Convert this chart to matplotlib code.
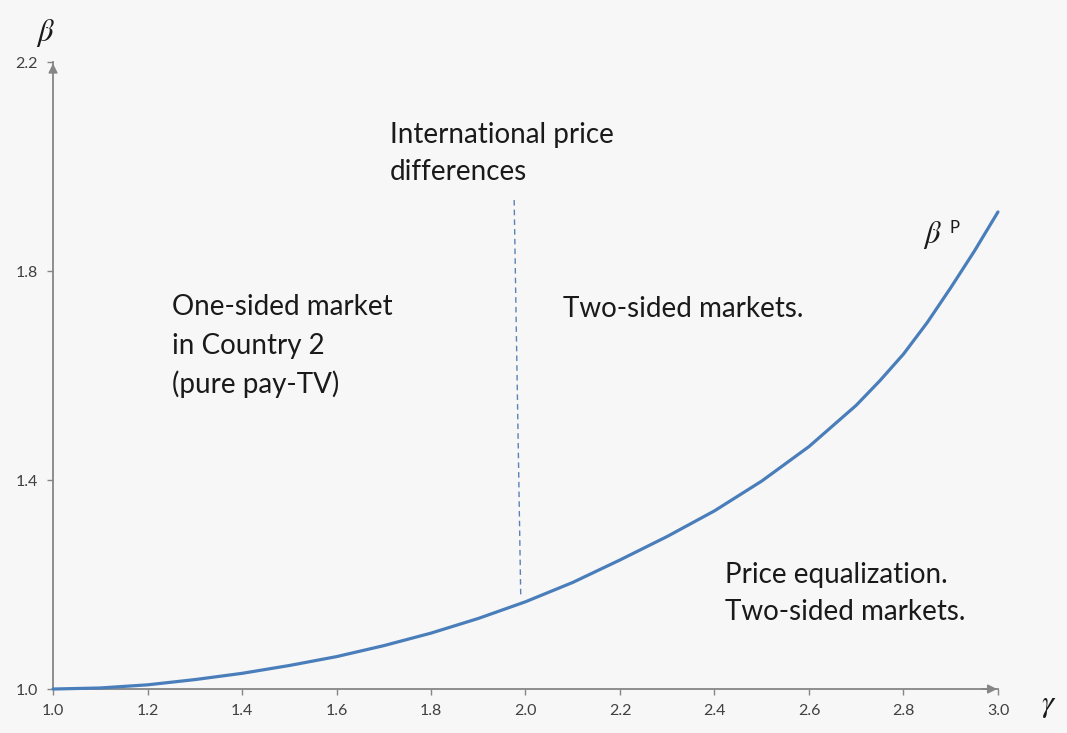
import matplotlib
matplotlib.use("Agg")
import matplotlib.pyplot as plt

# curve beta^P(gamma)
gamma = [1.0, 1.1, 1.2, 1.3, 1.4, 1.5, 1.6, 1.7, 1.8, 1.9, 2.0, 2.1, 2.2, 2.3,
         2.4, 2.5, 2.6, 2.7, 2.75, 2.8, 2.85, 2.9, 2.95, 3.0]
beta_p = [1.0, 1.002, 1.008, 1.018, 1.030, 1.045, 1.062, 1.083, 1.107, 1.135,
          1.167, 1.204, 1.247, 1.292, 1.341, 1.398, 1.464, 1.543, 1.590, 1.641,
          1.701, 1.768, 1.838, 1.913]

# dashed separator
sep_x = [1.976, 1.990]
sep_y = [1.936, 1.174]

xticks = [1.0, 1.2, 1.4, 1.6, 1.8, 2.0, 2.2, 2.4, 2.6, 2.8, 3.0]
yticks = [1.0, 1.4, 1.8, 2.2]

bg = "#f7f7f7"
blue = "#4a7ebb"
grey = "#868686"
txt = "#1a1a1a"
fnt = "Lato"

fig = plt.figure(figsize=(10.67, 7.33), dpi=100, facecolor=bg)
ax = fig.add_axes([0.0497, 0.06, 0.8856, 0.8554], facecolor=bg)

ax.plot(gamma, beta_p, color=blue, lw=2.3, solid_capstyle="round", solid_joinstyle="round",
        clip_on=False, zorder=3)
ax.plot(sep_x, sep_y, color="#5a82b5", lw=1.0, ls=(0, (4, 3)), zorder=3)

ax.set_xlim(1.0, 3.0)
ax.set_ylim(1.0, 2.2)
ax.set_xticks(xticks)
ax.set_yticks(yticks)
ax.set_xticklabels([f"{v:.1f}" for v in xticks])
ax.set_yticklabels([f"{v:.1f}" for v in yticks])
ax.tick_params(axis="both", colors=grey, labelcolor="#404040", labelsize=11.5,
               length=4, width=1)
ax.tick_params(axis="x", pad=7)
ax.tick_params(axis="y", pad=7)
for lab in ax.get_xticklabels() + ax.get_yticklabels():
    lab.set_family(fnt)

for s in ["top", "right"]:
    ax.spines[s].set_visible(False)
for s in ["left", "bottom"]:
    ax.spines[s].set_color(grey)
    ax.spines[s].set_linewidth(1.3)

# arrow heads on the axes
ax.annotate("", xy=(1.002, 0), xytext=(0.98, 0), xycoords="axes fraction",
            arrowprops=dict(arrowstyle="-|>", color=grey, lw=1.3, mutation_scale=13),
            annotation_clip=False)
ax.annotate("", xy=(0, 1.002), xytext=(0, 0.98), xycoords="axes fraction",
            arrowprops=dict(arrowstyle="-|>", color=grey, lw=1.3, mutation_scale=13),
            annotation_clip=False)

# axis symbols
fig.text(0.043, 0.955, r"$\beta$", fontsize=22, color=txt, ha="center", va="center",
         math_fontfamily="stix")
fig.text(0.983, 0.037, r"$\gamma$", fontsize=22, color=txt, ha="center", va="center",
         math_fontfamily="stix")

ax.text(2.862, 1.869, r"$\beta$", fontsize=22, color=txt, ha="center", va="center",
        math_fontfamily="stix")
ax.text(2.898, 1.882, "P", fontsize=12, color=txt, ha="left", va="center", family=fnt)

fs = 20
ax.text(1.713, 2.06, "International price", fontsize=fs, color=txt, va="center", family=fnt)
ax.text(1.713, 1.99, "differences", fontsize=fs, color=txt, va="center", family=fnt)

for i, line in enumerate(["One-sided market", "in Country 2", "(pure pay-TV)"]):
    ax.text(1.252, 1.731 - i * 0.074, line, fontsize=fs, color=txt, va="center", family=fnt)

ax.text(2.079, 1.727, "Two-sided markets.", fontsize=fs, color=txt, va="center", family=fnt)
ax.text(2.422, 1.218, "Price equalization.", fontsize=fs, color=txt, va="center", family=fnt)
ax.text(2.422, 1.147, "Two-sided markets.", fontsize=fs, color=txt, va="center", family=fnt)

plt.savefig("out.png", dpi=100, facecolor=bg)
